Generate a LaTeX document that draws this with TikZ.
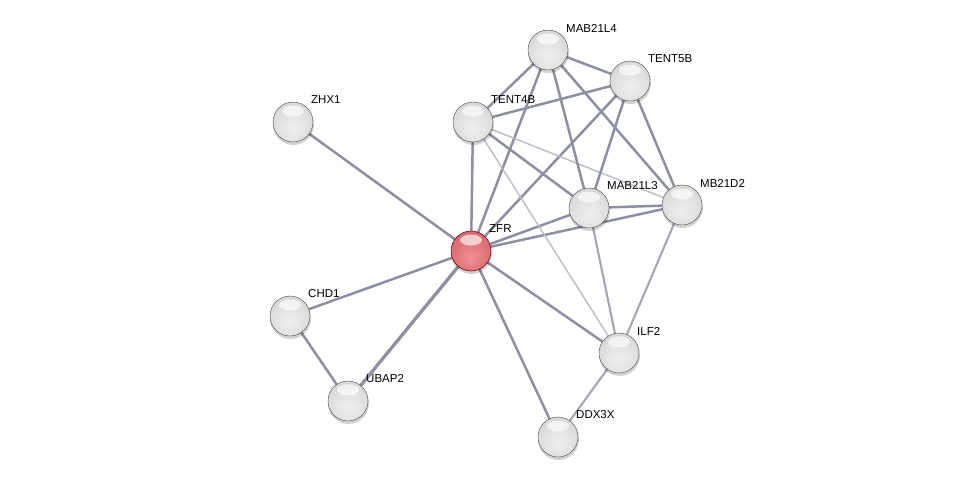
\documentclass[tikz,border=0pt]{standalone}
\usepackage{fontspec}
\setmainfont{Liberation Sans}
\usetikzlibrary{calc}
\definecolor{edgec}{RGB}{140,144,165}
\definecolor{edgelight}{RGB}{185,188,202}
\definecolor{gA}{RGB}{240,240,240}
\definecolor{gB}{RGB}{222,222,222}
\definecolor{gC}{RGB}{205,205,205}
\definecolor{gD}{RGB}{165,165,165}
\definecolor{gE}{RGB}{120,120,120}
\definecolor{rA}{RGB}{240,145,150}
\definecolor{rB}{RGB}{222,112,118}
\definecolor{rC}{RGB}{205,92,98}
\definecolor{rD}{RGB}{165,55,60}
\definecolor{rE}{RGB}{120,30,35}
\pgfdeclareradialshading{graysphere}{\pgfpoint{0bp}{-8bp}}{color(0bp)=(gA); color(22bp)=(gB); color(40bp)=(gC); color(50bp)=(gD); color(58bp)=(gE); color(70bp)=(gE)}
\pgfdeclareradialshading{redsphere}{\pgfpoint{0bp}{-8bp}}{color(0bp)=(rA); color(22bp)=(rB); color(40bp)=(rC); color(50bp)=(rD); color(58bp)=(rE); color(70bp)=(rE)}
\begin{document}
\begin{tikzpicture}[x=1pt,y=-1pt,
  prot/.style={circle,minimum size=40pt,inner sep=0pt,draw=gray!60!black,line width=0.4pt,shading=graysphere},
  seed/.style={circle,minimum size=40pt,inner sep=0pt,draw=red!40!black,line width=0.5pt,shading=redsphere},
  lbl/.style={anchor=west,inner sep=0pt,font=\fontsize{11.5}{13}\selectfont},
  ed/.style={draw=edgec,line width=2.5pt},
  edthick/.style={draw=edgec,line width=3.3pt},
  edmed/.style={draw=edgec!80!white,line width=2.1pt},
  edthin/.style={draw=edgelight,line width=1.4pt},
  shine/.style={fill=white,opacity=0.65},
  shadow/.style={fill=black,opacity=0.18}]
\useasboundingbox (0,0) rectangle (976,483);
\fill[white] (0,0) rectangle (976,483);
% coordinates
\coordinate (pZHX1) at (293,122);
\coordinate (pTENT4B) at (473,122);
\coordinate (pMAB21L4) at (548,50);
\coordinate (pTENT5B) at (630,81);
\coordinate (pMAB21L3) at (589,208);
\coordinate (pMB21D2) at (682,205);
\coordinate (pZFR) at (471,251);
\coordinate (pCHD1) at (290,316);
\coordinate (pUBAP2) at (348,401);
\coordinate (pILF2) at (619,353);
\coordinate (pDDX3X) at (558,437);
% edges
\draw[ed] (pZHX1) -- (pZFR);
\draw[ed] (pCHD1) -- (pZFR);
\draw[ed] (pCHD1) -- (pUBAP2);
\draw[edthick] (pUBAP2) -- (pZFR);
\draw[ed] (pZFR) -- (pDDX3X);
\draw[ed] (pZFR) -- (pILF2);
\draw[ed] (pZFR) -- (pTENT4B);
\draw[ed] (pZFR) -- (pMAB21L4);
\draw[ed] (pZFR) -- (pTENT5B);
\draw[ed] (pZFR) -- (pMAB21L3);
\draw[ed] (pZFR) -- (pMB21D2);
\draw[ed] (pTENT4B) -- (pMAB21L4);
\draw[ed] (pTENT4B) -- (pTENT5B);
\draw[ed] (pTENT4B) -- (pMAB21L3);
\draw[edthin] (pTENT4B) -- (pMB21D2);
\draw[edthin] (pTENT4B) -- (pILF2);
\draw[ed] (pMAB21L4) -- (pTENT5B);
\draw[ed] (pMAB21L4) -- (pMAB21L3);
\draw[ed] (pMAB21L4) -- (pMB21D2);
\draw[ed] (pTENT5B) -- (pMAB21L3);
\draw[ed] (pTENT5B) -- (pMB21D2);
\draw[ed] (pMAB21L3) -- (pMB21D2);
\draw[edmed] (pMAB21L3) -- (pILF2);
\draw[edmed] (pMB21D2) -- (pILF2);
\draw[edmed] (pILF2) -- (pDDX3X);
% shadows
\foreach \n in {ZHX1,TENT4B,MAB21L4,TENT5B,MAB21L3,MB21D2,ZFR,CHD1,UBAP2,ILF2,DDX3X}
  \fill[shadow] ($(p\n)+(0.5,2.5)$) circle (20.5);
% nodes
\node[prot] (ZHX1) at (pZHX1) {};
\node[prot] (TENT4B) at (pTENT4B) {};
\node[prot] (MAB21L4) at (pMAB21L4) {};
\node[prot] (TENT5B) at (pTENT5B) {};
\node[prot] (MAB21L3) at (pMAB21L3) {};
\node[prot] (MB21D2) at (pMB21D2) {};
\node[seed] (ZFR) at (pZFR) {};
\node[prot] (CHD1) at (pCHD1) {};
\node[prot] (UBAP2) at (pUBAP2) {};
\node[prot] (ILF2) at (pILF2) {};
\node[prot] (DDX3X) at (pDDX3X) {};
% highlights
\foreach \n in {ZHX1,TENT4B,MAB21L4,TENT5B,MAB21L3,MB21D2,ZFR,CHD1,UBAP2,ILF2,DDX3X}
  \fill[shine] ($(\n.center)+(0,-11)$) ellipse (11 and 5.5);
% labels
\node[lbl] (lZHX1) at ($(pZHX1)+(18,-22)$) {ZHX1};
\node[lbl] (lTENT4B) at ($(pTENT4B)+(18,-22)$) {TENT4B};
\node[lbl] (lMAB21L4) at ($(pMAB21L4)+(18,-22)$) {MAB21L4};
\node[lbl] (lTENT5B) at ($(pTENT5B)+(18,-22)$) {TENT5B};
\node[lbl] (lMAB21L3) at ($(pMAB21L3)+(18,-22)$) {MAB21L3};
\node[lbl] (lMB21D2) at ($(pMB21D2)+(18,-22)$) {MB21D2};
\node[lbl] (lZFR) at ($(pZFR)+(18,-22)$) {ZFR};
\node[lbl] (lCHD1) at ($(pCHD1)+(18,-22)$) {CHD1};
\node[lbl] (lUBAP2) at ($(pUBAP2)+(18,-22)$) {UBAP2};
\node[lbl] (lILF2) at ($(pILF2)+(18,-22)$) {ILF2};
\node[lbl] (lDDX3X) at ($(pDDX3X)+(18,-22)$) {DDX3X};
\end{tikzpicture}
\end{document}
